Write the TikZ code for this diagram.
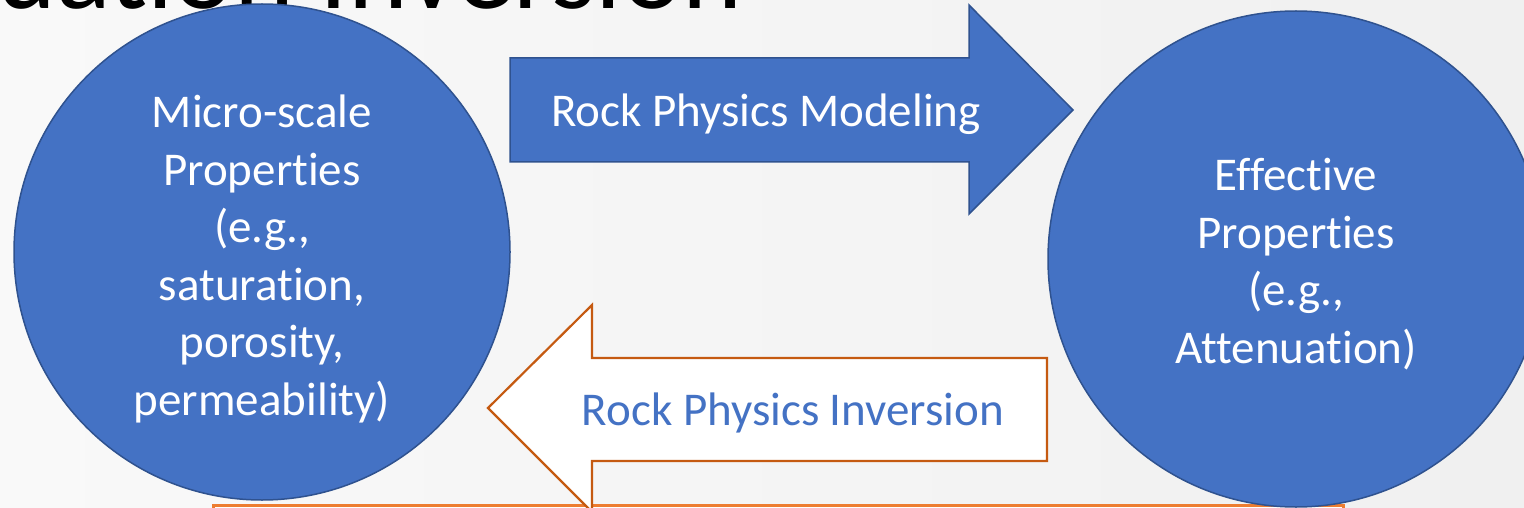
\documentclass[tikz,border=0pt]{standalone}
\usepackage{fontspec}
\setmainfont{Carlito}[Ligatures={NoCommon}]
\definecolor{accblue}{HTML}{4472C4}
\definecolor{accblueline}{HTML}{2F528F}
\definecolor{accorange}{HTML}{ED7D31}
\definecolor{accbrown}{HTML}{C55A11}
\definecolor{bgleft}{HTML}{F9F9F9}
\definecolor{bgright}{HTML}{F0F0F0}
\begin{document}
\begin{tikzpicture}[x=1pt,y=-1pt,
  bubble/.style={circle, fill=accblue, draw=accblueline, line width=1.5pt, minimum size=496pt, inner sep=0pt},
  bubbletext/.style={text=white, align=center, inner sep=0pt, font=\fontsize{47}{57.5}\selectfont},
  arrowtext/.style={anchor=base, inner sep=0pt, font=\fontsize{47}{57.5}\selectfont},
  fwdarrow/.style={fill=accblue, draw=accblueline, line width=1.5pt, line join=miter},
  backarrow/.style={fill=white, draw=accbrown, line width=2.2pt, line join=miter},
  framebox/.style={draw=accorange, line width=3pt, fill=white}
]
\useasboundingbox (0,0) rectangle (1524,508);
\shade[left color=bgleft, right color=bgright] (0,0) rectangle (1524,508);

% cut-off title
\node[anchor=base west, inner sep=0pt, font=\fontsize{114}{120}\selectfont] (title) at (-4,9) {uation Inversion};

% bottom frame
\draw[framebox] (213,505) rectangle (1343,570);

% circles
\node[bubble] (micro) at (262,252) {};
\node[bubbletext] (microtext) at (262,259) {Micro-scale\\Properties\\(e.g.,\\saturation,\\porosity,\\permeability)};
\node[bubble] (eff) at (1296,259) {};
\node[bubbletext] (efftext) at (1296,264) {Effective\\Properties\\(e.g.,\\Attenuation)};

% forward arrow
\draw[fwdarrow] (510,58) -- (969,58) -- (969,5) -- (1073,110) -- (969,214) -- (969,162) -- (510,162) -- cycle;
\node[arrowtext, text=white] (model) at (766,127) {Rock Physics Modeling};

% backward arrow
\draw[backarrow] (488,408) -- (592,305) -- (592,358) -- (1047,358) -- (1047,461) -- (592,461) -- (592,512) -- cycle;
\node[arrowtext, text=accblue] (inv) at (793,425) {Rock Physics Inversion};
\end{tikzpicture}
\end{document}
